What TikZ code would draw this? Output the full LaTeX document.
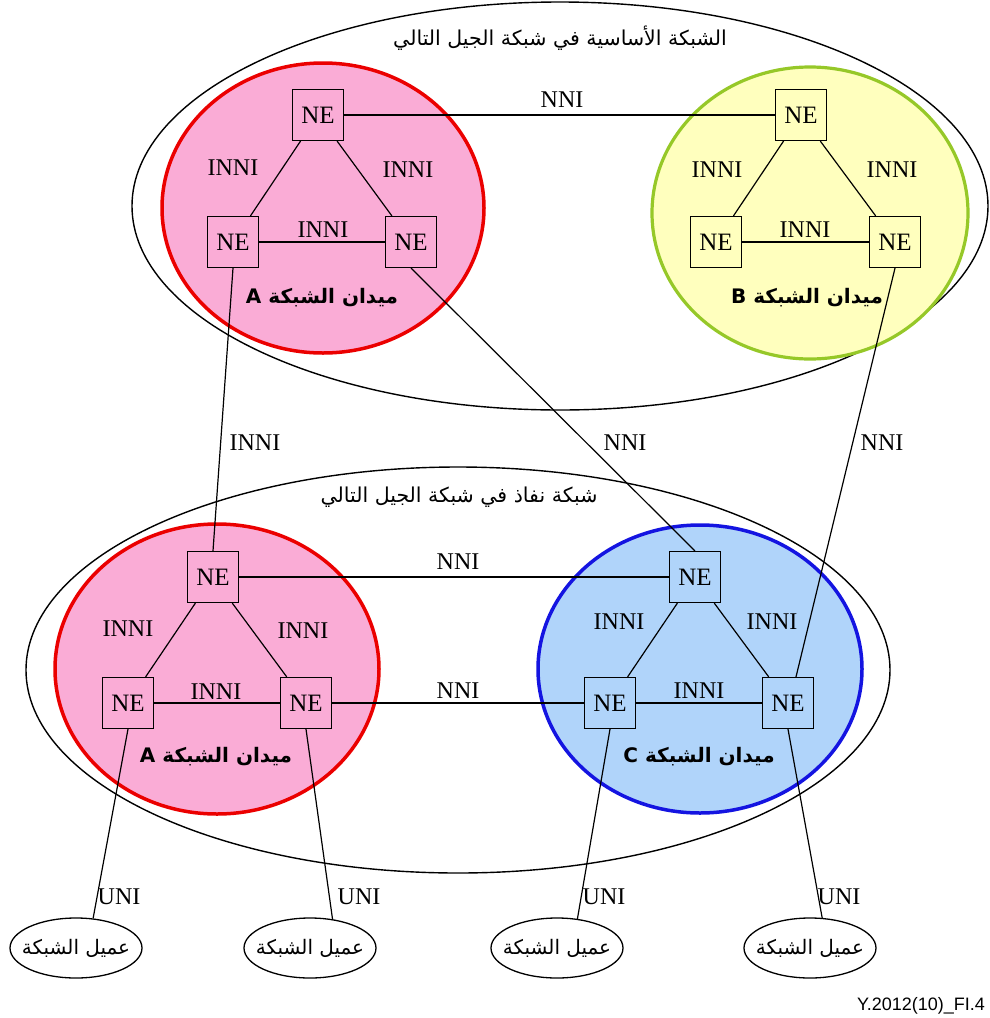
\documentclass[tikz,border=0pt]{standalone}
\usepackage{fontspec}
\setmainfont{Liberation Serif}
\newfontfamily\arabicfont[Script=Arabic]{DejaVu Sans}
\newfontfamily\codefont{Liberation Sans}
\TeXXeTstate=1
\usetikzlibrary{shapes.geometric}

\definecolor{pinkfill}{RGB}{250,172,214}
\definecolor{yellowfill}{RGB}{255,255,190}
\definecolor{bluefill}{RGB}{176,212,250}
\definecolor{redline}{RGB}{235,0,0}
\definecolor{greenline}{RGB}{150,200,40}
\definecolor{blueline}{RGB}{20,20,225}

\pgfdeclarelayer{back}
\pgfdeclarelayer{mid}
\pgfsetlayers{back,mid,main}

\tikzset{
  ne/.style={draw, line width=1.2pt, minimum width=51pt, minimum height=51pt,
    inner sep=0pt, font=\fontsize{25}{25}\selectfont},
  lbl/.style={inner sep=0pt, font=\fontsize{24}{24}\selectfont},
  link/.style={line width=1.2pt},
  area/.style={line width=1.4pt},
  domainA/.style={draw=redline, fill=pinkfill, line width=3.5pt},
  domainB/.style={draw=greenline, fill=yellowfill, line width=3.2pt},
  domainC/.style={draw=blueline, fill=bluefill, line width=3.5pt},
  artitle/.style={inner sep=0pt, font=\arabicfont\fontsize{20.5}{20.5}\selectfont},
  domlbl/.style={inner sep=0pt, font=\arabicfont\bfseries\fontsize{20}{20}\selectfont},
  client/.style={draw, line width=1.3pt, ellipse, minimum width=132pt,
    minimum height=60pt, inner xsep=-9pt, inner ysep=0pt,
    font=\arabicfont\fontsize{20}{20}\selectfont}
}

\begin{document}
\begin{tikzpicture}[x=1pt, y=-1pt]
\useasboundingbox (0,0) rectangle (989,1018);

\begin{pgfonlayer}{back}
\fill[white] (0,0) rectangle (989,1018);
% NGN core and access networks
\draw[area] (560,206) ellipse [x radius=428, y radius=204];
\draw[area] (458,670) ellipse [x radius=432, y radius=203];
% network domains
\filldraw[domainA] (323,208) ellipse [x radius=161, y radius=145];
\filldraw[domainB] (810,213) ellipse [x radius=158, y radius=146];
\filldraw[domainA] (217,669) ellipse [x radius=162, y radius=145];
\filldraw[domainC] (700,669) ellipse [x radius=162, y radius=144];
\end{pgfonlayer}

% titles
\node[artitle] (coretitle) at (560,38) {\beginR الشبكة الأساسية في شبكة الجيل التالي\endR};
\node[artitle] (accesstitle) at (459,497) {\beginR شبكة نفاذ في شبكة الجيل التالي\endR};

% network elements
\node[ne, fill=pinkfill] (tA1) at (318,115) {NE};
\node[ne, fill=pinkfill] (tA2) at (233,242) {NE};
\node[ne, fill=pinkfill] (tA3) at (411,242) {NE};
\node[ne, fill=yellowfill] (tB1) at (801,115) {NE};
\node[ne, fill=yellowfill] (tB2) at (716,242) {NE};
\node[ne, fill=yellowfill] (tB3) at (895,242) {NE};
\node[ne, fill=pinkfill] (bA1) at (213,577) {NE};
\node[ne, fill=pinkfill] (bA2) at (128,703) {NE};
\node[ne, fill=pinkfill] (bA3) at (306,703) {NE};
\node[ne, fill=bluefill] (bC1) at (695,577) {NE};
\node[ne, fill=bluefill] (bC2) at (610,703) {NE};
\node[ne, fill=bluefill] (bC3) at (788,703) {NE};

% network clients
\node[client] (cl1) at (76,948) {\beginR عميل الشبكة\endR};
\node[client] (cl2) at (310,948) {\beginR عميل الشبكة\endR};
\node[client] (cl3) at (557,948) {\beginR عميل الشبكة\endR};
\node[client] (cl4) at (810,948) {\beginR عميل الشبكة\endR};

% links, kept beneath the elements
\begin{pgfonlayer}{mid}
\draw[link] (tA1) -- (tA2);
\draw[link] (tA1) -- (tA3);
\draw[link] (tA2) -- (tA3);
\draw[link] (tB1) -- (tB2);
\draw[link] (tB1) -- (tB3);
\draw[link] (tB2) -- (tB3);
\draw[link] (bA1) -- (bA2);
\draw[link] (bA1) -- (bA3);
\draw[link] (bA2) -- (bA3);
\draw[link] (bC1) -- (bC2);
\draw[link] (bC1) -- (bC3);
\draw[link] (bC2) -- (bC3);
\draw[link] (tA1) -- (tB1);
\draw[link] (bA1) -- (bC1);
\draw[link] (bA3) -- (bC2);
\draw[link] (tA2.south) -- (bA1.north);
\draw[link] (tA3.south) -- (bC1.north);
\draw[link] (tB3.south) -- ([xshift=8pt]bC3.north);
\draw[link] (bA2.south) -- (cl1.60);
\draw[link] (bA3.south) -- (cl2.52);
\draw[link] (bC2.south) -- (cl3.55);
\draw[link] (bC3.south) -- (cl4.68);
\end{pgfonlayer}

% interface labels
\node[lbl] (l1) at (233,168) {INNI};
\node[lbl] (l2) at (408,170) {INNI};
\node[lbl] (l3) at (323,230) {INNI};
\node[lbl] (l4) at (717,170) {INNI};
\node[lbl] (l5) at (892,170) {INNI};
\node[lbl] (l6) at (805,230) {INNI};
\node[lbl] (l7) at (562,100) {NNI};
\node[lbl] (l8) at (128,629) {INNI};
\node[lbl] (l9) at (303,631) {INNI};
\node[lbl] (l10) at (216,692) {INNI};
\node[lbl] (l11) at (619,622) {INNI};
\node[lbl] (l12) at (772,622) {INNI};
\node[lbl] (l13) at (699,691) {INNI};
\node[lbl] (l14) at (458,562) {NNI};
\node[lbl] (l15) at (458,691) {NNI};
\node[lbl] (l16) at (255,443) {INNI};
\node[lbl] (l17) at (625,443) {NNI};
\node[lbl] (l18) at (882,443) {NNI};
\node[lbl] (u1) at (119,897) {UNI};
\node[lbl] (u2) at (359,897) {UNI};
\node[lbl] (u3) at (604,897) {UNI};
\node[lbl] (u4) at (839,897) {UNI};

% domain names
\node[domlbl] (dA1) at (322,298) {\beginR ميدان الشبكة A\endR};
\node[domlbl] (dB) at (807,298) {\beginR ميدان الشبكة B\endR};
\node[domlbl] (dA2) at (216,757) {\beginR ميدان الشبكة A\endR};
\node[domlbl] (dC) at (699,757) {\beginR ميدان الشبكة C\endR};

% figure reference
\node[anchor=east, inner sep=0pt, font=\codefont\fontsize{18}{18}\selectfont] (figref) at (985,1006) {Y.2012(10)\_FI.4};
\end{tikzpicture}
\end{document}
